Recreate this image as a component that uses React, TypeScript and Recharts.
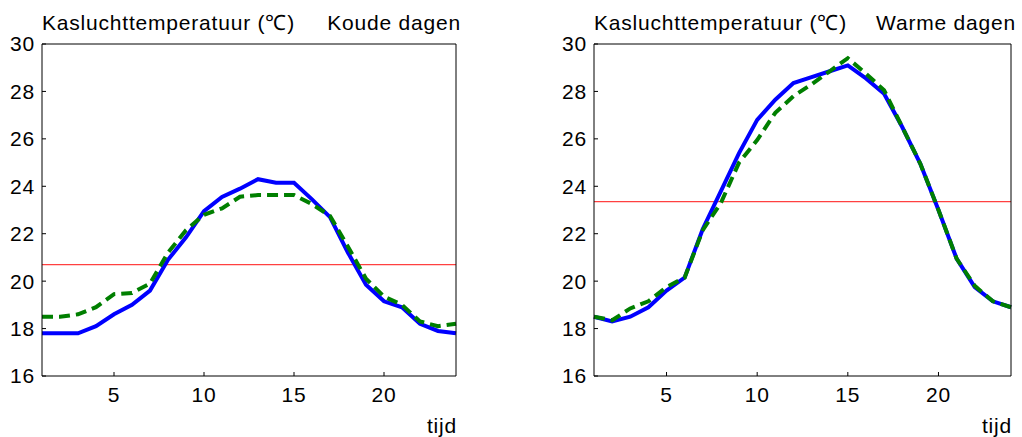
import { LineChart, Line, XAxis, YAxis, ReferenceLine } from "recharts";

const hours = [1, 2, 3, 4, 5, 6, 7, 8, 9, 10, 11, 12, 13, 14, 15, 16, 17, 18, 19, 20, 21, 22, 23, 24];

const coldMeasured = [17.8, 17.8, 17.8, 18.1, 18.6, 19.0, 19.6, 20.9, 21.85, 22.95, 23.55, 23.9, 24.3, 24.15, 24.15, 23.45, 22.7, 21.2, 19.85, 19.15, 18.9, 18.2, 17.9, 17.8];
const coldModel = [18.5, 18.5, 18.6, 18.9, 19.45, 19.5, 19.9, 21.2, 22.15, 22.8, 23.07, 23.56, 23.63, 23.63, 23.63, 23.25, 22.75, 21.45, 20.1, 19.35, 19.0, 18.3, 18.1, 18.2];
const coldMean = 20.7;

const warmMeasured = [18.5, 18.3, 18.5, 18.9, 19.6, 20.15, 22.2, 23.8, 25.4, 26.8, 27.65, 28.35, 28.6, 28.85, 29.1, 28.55, 27.9, 26.5, 24.95, 23.0, 20.95, 19.75, 19.15, 18.9];
const warmModel = [18.5, 18.35, 18.85, 19.15, 19.75, 20.15, 22.15, 23.3, 25.0, 25.95, 27.1, 27.8, 28.3, 28.85, 29.4, 28.75, 28.05, 26.5, 24.95, 23.0, 20.95, 19.8, 19.15, 18.9];
const warmMean = 23.35;

const xTicks = [5, 10, 15, 20];
const yTicks = [16, 18, 20, 22, 24, 26, 28, 30];

const FONT = "'Liberation Sans', Arial, Helvetica, sans-serif";

function Panel({
  left,
  width,
  leftAxisWidth,
  rightAxisWidth,
  measured,
  model,
  mean,
  label,
}: {
  left: number;
  width: number;
  leftAxisWidth: number;
  rightAxisWidth: number;
  measured: number[];
  model: number[];
  mean: number;
  label: string;
}) {
  const data = hours.map((h, i) => ({ h, measured: measured[i], model: model[i] }));
  const tickStyle = { fill: "#000", fontSize: 21, fontFamily: FONT, letterSpacing: 0.8 };
  const textStyle = {
    fontFamily: FONT,
    fontSize: 21,
    letterSpacing: 0.8,
    lineHeight: "24px",
    color: "#000",
    whiteSpace: "nowrap" as const,
  };
  return (
    <div style={{ position: "absolute", left, top: 0, width, height: 437 }}>
      <LineChart width={width} height={437} data={data} margin={{ top: 0, right: 0, bottom: 0, left: 0 }}>
        <XAxis
          xAxisId="b"
          dataKey="h"
          type="number"
          domain={[1, 24]}
          ticks={xTicks}
          orientation="bottom"
          height={61}
          tickSize={-4}
          tickMargin={15}
          stroke="#000"
          tick={tickStyle}
          interval={0}
        />
        <XAxis
          xAxisId="t"
          dataKey="h"
          type="number"
          domain={[1, 24]}
          ticks={xTicks}
          orientation="top"
          height={44}
          tickSize={-4}
          tick={false}
          stroke="#000"
        />
        <YAxis
          yAxisId="l"
          domain={[16, 30]}
          ticks={yTicks}
          width={leftAxisWidth}
          tickSize={-4}
          tickMargin={11}
          stroke="#000"
          tick={tickStyle}
          interval={0}
        />
        <YAxis
          yAxisId="r"
          orientation="right"
          domain={[16, 30]}
          ticks={yTicks}
          width={rightAxisWidth}
          tickSize={-4}
          tick={false}
          stroke="#000"
        />
        <ReferenceLine xAxisId="b" yAxisId="l" y={mean} stroke="#ff4040" strokeWidth={1.2} />
        <Line
          xAxisId="b"
          yAxisId="l"
          dataKey="measured"
          type="linear"
          stroke="#0000ff"
          strokeWidth={4}
          dot={false}
          isAnimationActive={false}
        />
        <Line
          xAxisId="b"
          yAxisId="r"
          dataKey="model"
          type="linear"
          stroke="#007f00"
          strokeWidth={4}
          strokeDasharray="11 6"
          dot={false}
          isAnimationActive={false}
        />
      </LineChart>
      <div
        style={{
          ...textStyle,
          position: "absolute",
          left: leftAxisWidth,
          right: rightAxisWidth - 5,
          top: 11,
          display: "flex",
          justifyContent: "space-between",
        }}
      >
        <span>Kasluchttemperatuur (℃)</span>
        <span>{label}</span>
      </div>
      <div style={{ ...textStyle, position: "absolute", right: rightAxisWidth - 1, top: 414 }}>tijd</div>
    </div>
  );
}

export default function App() {
  return (
    <div style={{ position: "absolute", left: 0, top: 0, width: 1022, height: 437, background: "#fff" }}>
      <Panel left={0} width={470} leftAxisWidth={42} rightAxisWidth={14} measured={coldMeasured} model={coldModel} mean={coldMean} label="Koude dagen" />
      <Panel left={540} width={482} leftAxisWidth={54} rightAxisWidth={11} measured={warmMeasured} model={warmModel} mean={warmMean} label="Warme dagen" />
    </div>
  );
}
